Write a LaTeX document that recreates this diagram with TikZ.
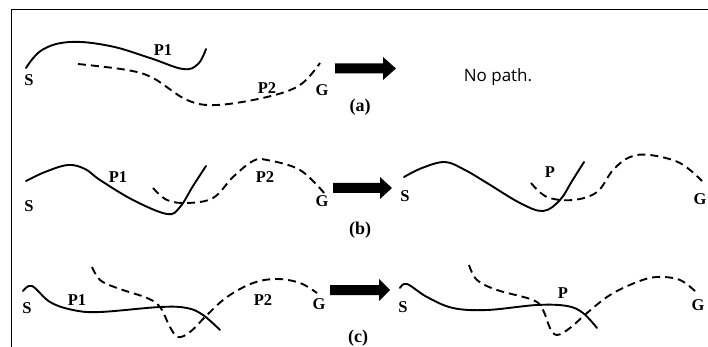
\documentclass[tikz,border=0pt]{standalone}
\usepackage{fontspec}
\setmainfont{Liberation Serif}
\newfontfamily\uifont{Open Sans}
\begin{document}
\begin{tikzpicture}[x=1pt,y=-1pt,
  solidpath/.style={line width=1.9pt, line cap=round},
  dashpath/.style={line width=1.9pt, dash pattern=on 8pt off 5pt},
  lbl/.style={font=\fontsize{16.5}{16.5}\selectfont\bfseries, inner sep=0pt},
  sublbl/.style={font=\fontsize{18}{18}\selectfont\bfseries, inner sep=0pt},
  fatarrow/.style={fill=black}]
\useasboundingbox (0,0) rectangle (708,347);
% frame
\draw[line width=1pt] (11,347) -- (11,10) -- (708,10);

% ---------- (a) ----------
\draw[solidpath] plot[smooth, tension=0.65] coordinates {(26,68) (42,50) (70,42) (110,46) (150,58) (183,69) (198,64) (206,49)};
\draw[dashpath] plot[smooth, tension=0.6] coordinates {(78,64) (127,70) (153,78) (187,100) (217,105) (267,97) (300,85) (320,63)};
\node[lbl] (Sa) at (29,80) {S};
\node[lbl] (P1a) at (163,50) {P1};
\node[lbl] (P2a) at (267,88) {P2};
\node[lbl] (Ga) at (322,90) {G};
\fill[fatarrow] (335,63.5) -- (383,63.5) -- (383,57) -- (396,68.5) -- (383,80) -- (383,73.5) -- (335,73.5) -- cycle;
\node[font=\uifont\fontsize{17}{17}\selectfont, inner sep=0pt] (np) at (498,77) {No path.};
\node[sublbl] (ca) at (360,107) {(a)};

% ---------- (b) ----------
\draw[solidpath] plot[smooth, tension=0.6] coordinates {(26,181) (45,172) (68,165) (85,169) (100,180) (133,200) (167,214) (180,207) (193,186) (206,166)};
\draw[dashpath] plot[smooth, tension=0.6] coordinates {(153,188) (167,200) (187,203) (213,198) (233,177) (253,161) (267,160) (300,170) (325,194)};
\node[lbl] (Sb) at (29,206) {S};
\node[lbl] (P1b) at (118,177) {P1};
\node[lbl] (P2b) at (265,177) {P2};
\node[lbl] (Gb) at (322,201) {G};
\fill[fatarrow] (333,183) -- (380,183) -- (380,177) -- (392,188) -- (380,199) -- (380,193) -- (333,193) -- cycle;
\node[sublbl] (cb) at (360,230) {(b)};
\draw[solidpath] plot[smooth, tension=0.6] coordinates {(404,177) (422,168) (445,162) (465,170) (487,183) (520,203) (543,211) (560,200) (572,181) (584,162)};
\draw[dashpath] plot[smooth, tension=0.6] coordinates {(531,183) (547,197) (573,200) (597,192) (613,170) (630,157) (650,155) (680,163) (702,181)};
\node[lbl] (Sb2) at (405,196) {S};
\node[lbl] (Pb) at (550,172) {P};
\node[lbl] (Gb2) at (700,199) {G};

% ---------- (c) ----------
\draw[solidpath] plot[smooth, tension=0.6] coordinates {(23,291) (32,286) (50,302) (73,310) (100,312) (160,307) (187,308) (203,315) (220,330)};
\draw[dashpath] plot[smooth, tension=0.6] coordinates {(92,267) (100,280) (117,288) (147,298) (160,307) (170,327) (178,337) (190,332) (207,315) (227,297) (253,283) (277,279) (300,283) (317,293)};
\node[lbl] (Sc) at (27,308) {S};
\node[lbl] (P1c) at (77,300) {P1};
\node[lbl] (P2c) at (263,300) {P2};
\node[lbl] (Gc) at (319,304) {G};
\fill[fatarrow] (330,285) -- (379,285) -- (379,279) -- (390,290) -- (379,301) -- (379,295) -- (330,295) -- cycle;
\node[sublbl] (cc) at (358,338) {(c)};
\draw[solidpath] plot[smooth, tension=0.6] coordinates {(400,288) (407,284) (427,297) (453,308) (487,310) (537,305) (567,306) (583,313) (597,328)};
\draw[dashpath] plot[smooth, tension=0.6] coordinates {(469,265) (477,280) (497,290) (533,300) (543,310) (550,328) (557,335) (570,328) (587,313) (610,295) (637,282) (657,277) (680,280) (697,293)};
\node[lbl] (Sc2) at (403,307) {S};
\node[lbl] (Pc) at (563,293) {P};
\node[lbl] (Gc2) at (698,305) {G};
\end{tikzpicture}
\end{document}
